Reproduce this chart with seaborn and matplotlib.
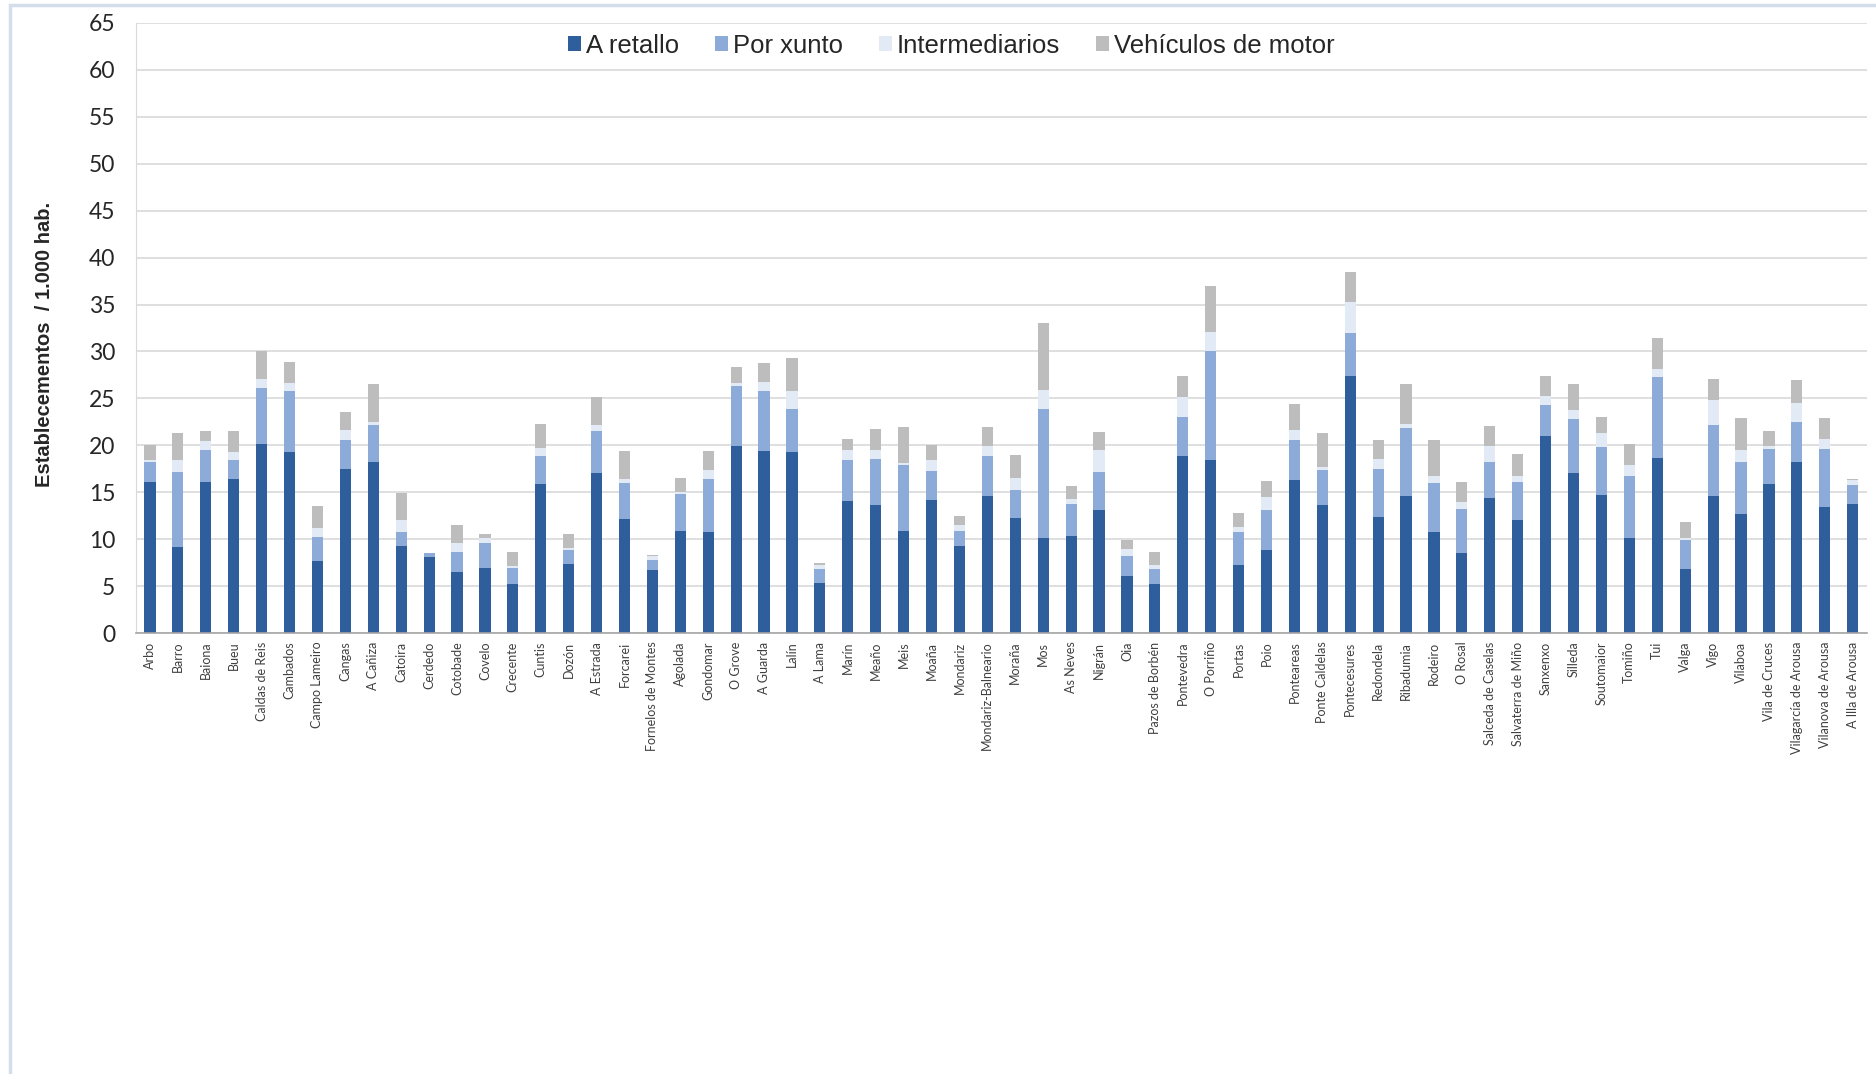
import matplotlib
matplotlib.use("Agg")
from matplotlib import pyplot as plt
from matplotlib.patches import Patch, Rectangle
import seaborn as sns
import pandas as pd

# municipalities of Pontevedra, in the order of the original chart
concellos = [
    "Arbo", "Barro", "Baiona", "Bueu", "Caldas de Reis", "Cambados", "Campo Lameiro",
    "Cangas", "A Cañiza", "Catoira", "Cerdedo", "Cotobade", "Covelo", "Crecente",
    "Cuntis", "Dozón", "A Estrada", "Forcarei", "Fornelos de Montes", "Agolada",
    "Gondomar", "O Grove", "A Guarda", "Lalín", "A Lama", "Marín", "Meaño", "Meis",
    "Moaña", "Mondariz", "Mondariz-Balneario", "Moraña", "Mos", "As Neves", "Nigrán",
    "Oia", "Pazos de Borbén", "Pontevedra", "O Porriño", "Portas", "Poio", "Ponteareas",
    "Ponte Caldelas", "Pontecesures", "Redondela", "Ribadumia", "Rodeiro", "O Rosal",
    "Salceda de Caselas", "Salvaterra de Miño", "Sanxenxo", "Silleda", "Soutomaior",
    "Tomiño", "Tui", "Valga", "Vigo", "Vilaboa", "Vila de Cruces",
    "Vilagarcía de Arousa", "Vilanova de Arousa", "A Illa de Arousa",
]

# establishments per 1.000 inhabitants, one value per municipality
a_retallo = [
    16.1, 9.2, 16.1, 16.4, 20.2, 19.3, 7.7, 17.5, 18.2, 9.3, 8.1, 6.5, 7.0, 5.2,
    15.9, 7.4, 17.1, 12.2, 6.7, 10.9, 10.8, 19.9, 19.4, 19.3, 5.4, 14.1, 13.7, 10.9,
    14.2, 9.3, 14.6, 12.3, 10.1, 10.4, 13.1, 6.1, 5.2, 18.9, 18.4, 7.3, 8.9, 16.3,
    13.7, 27.4, 12.4, 14.6, 10.8, 8.5, 14.4, 12.1, 21.0, 17.1, 14.7, 10.1, 18.7,
    6.8, 14.6, 12.7, 15.9, 18.2, 13.5, 13.8,
]
por_xunto = [
    2.1, 8.0, 3.4, 2.0, 5.9, 6.5, 2.6, 3.1, 4.0, 1.5, 0.5, 2.2, 2.6, 1.8,
    3.0, 1.5, 4.4, 3.8, 1.1, 3.9, 5.6, 6.4, 6.4, 4.6, 1.5, 4.3, 4.9, 7.0,
    3.1, 1.6, 4.3, 3.0, 13.8, 3.4, 4.1, 2.1, 1.7, 4.1, 11.6, 3.5, 4.2, 4.3,
    3.7, 4.6, 5.1, 7.3, 5.2, 4.7, 3.8, 4.0, 3.3, 5.7, 5.1, 6.6, 8.6,
    3.1, 7.6, 5.5, 3.7, 4.3, 6.1, 2.0,
]
intermediarios = [
    0.3, 1.2, 1.0, 0.9, 1.0, 0.8, 0.9, 1.0, 0.3, 1.3, 0.0, 0.9, 0.6, 0.2,
    0.8, 0.2, 0.7, 0.4, 0.4, 0.2, 1.0, 0.3, 0.9, 1.9, 0.4, 1.1, 0.9, 0.2,
    1.1, 0.6, 1.0, 1.2, 2.0, 0.5, 2.3, 0.8, 0.4, 2.2, 2.1, 0.5, 1.4, 1.0,
    0.3, 3.3, 1.1, 0.4, 0.7, 0.8, 1.7, 0.6, 1.0, 1.0, 1.5, 1.2, 0.8,
    0.2, 2.6, 1.3, 0.3, 2.0, 1.1, 0.5,
]
vehiculos_motor = [
    1.5, 2.9, 1.0, 2.2, 2.9, 2.3, 2.4, 2.0, 4.0, 2.8, 0.0, 1.9, 0.4, 1.5,
    2.6, 1.5, 3.0, 3.0, 0.1, 1.5, 2.0, 1.8, 2.1, 3.5, 0.2, 1.2, 2.3, 3.9,
    1.6, 1.0, 2.1, 2.5, 7.1, 1.4, 1.9, 0.9, 1.4, 2.2, 4.9, 1.5, 1.7, 2.8,
    3.6, 3.2, 2.0, 4.2, 3.9, 2.1, 2.2, 2.4, 2.1, 2.7, 1.7, 2.3, 3.3,
    1.8, 2.3, 3.4, 1.6, 2.5, 2.2, 0.1,
]

series_names = ["A retallo", "Por xunto", "Intermediarios", "Vehículos de motor"]
colors = ["#2F5E9C", "#8DABD9", "#E2EAF5", "#BDBDBD"]

df = pd.DataFrame({
    "concello": concellos,
    "A retallo": a_retallo,
    "Por xunto": por_xunto,
    "Intermediarios": intermediarios,
    "Vehículos de motor": vehiculos_motor,
})
# cumulative tops so the stack can be drawn back to front
cum = df[series_names].cumsum(axis=1)
cum["concello"] = df["concello"]

sns.set_style("white")
plt.rcParams["font.family"] = ["Lato", "DejaVu Sans"]

fig = plt.figure(figsize=(18.76, 10.74), dpi=100)
ax = fig.add_axes([0.0725, 0.4103, 0.9225, 0.5686])

for name, col in reversed(list(zip(series_names, colors))):
    sns.barplot(data=cum, x="concello", y=name, order=concellos, color=col,
                width=0.4, saturation=1, errorbar=None, ax=ax, linewidth=0)

ax.set_ylim(0, 65)
ax.set_yticks(range(0, 66, 5))
ax.set_xlim(-0.5, len(concellos) - 0.5)
ax.set_xlabel("")
ax.set_ylabel("")
ax.yaxis.grid(True, color="#D9D9D9", linewidth=1.2)
ax.set_axisbelow(True)

for s in ["top", "right"]:
    ax.spines[s].set_visible(False)
ax.spines["left"].set_color("#D9D9D9")
ax.spines["bottom"].set_color("#A6A6A6")
ax.spines["bottom"].set_linewidth(1.2)

ax.tick_params(axis="y", labelsize=16.5, length=7, color="#D9D9D9", pad=8, labelcolor="#262626")
ax.tick_params(axis="x", labelsize=9, length=0, pad=6, labelcolor="#404040")
plt.setp(ax.get_xticklabels(), rotation=90)

handles = [Patch(facecolor=c, edgecolor="none") for c in colors]
ax.legend(handles, series_names, loc="center", bbox_to_anchor=(0.471, 0.962), ncol=4,
          frameon=False, handlelength=0.5, handleheight=0.5,
          handletextpad=0.2, columnspacing=1.4,
          prop={"family": ["Liberation Sans", "DejaVu Sans"], "size": 18.5})

fig.text(0.0235, 0.679, "Establecementos  / 1.000 hab.", rotation=90, ha="center",
         va="center", fontsize=14.5, fontweight="bold", color="#262626",
         family=["Liberation Sans", "DejaVu Sans"])

# light frame of the original chart area
fig.add_artist(Rectangle((10 / 1876, -0.1), 1.2, 1.1 - 5 / 1074, transform=fig.transFigure,
                         fill=False, edgecolor="#D3DDEB", linewidth=2.5))

fig.savefig("out.png", dpi=100)
